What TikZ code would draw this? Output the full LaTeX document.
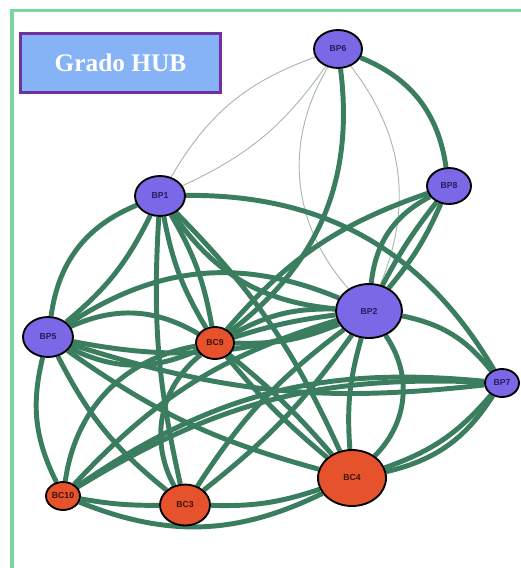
\documentclass[tikz,border=0pt]{standalone}
\usepackage{fontspec}
\setmainfont{Liberation Serif}
\newfontfamily\lblfont{Liberation Sans}
\usetikzlibrary{shapes.geometric,backgrounds}
\definecolor{edgegreen}{HTML}{3A7D5F}
\definecolor{thingray}{HTML}{A9B9B1}
\definecolor{framegreen}{HTML}{7AD5A1}
\definecolor{titlefill}{HTML}{86B3F6}
\definecolor{titledraw}{HTML}{7030A0}
\definecolor{pnode}{HTML}{7B68E6}
\definecolor{cnode}{HTML}{E5522B}
\definecolor{plabel}{HTML}{261A5E}
\definecolor{clabel}{HTML}{3A150C}
\tikzset{
  gnode/.style={ellipse, draw=black, line width=1.4pt, inner sep=0pt,
    font=\lblfont\bfseries\fontsize{6.5}{7}\selectfont},
  pn/.style={gnode, fill=pnode, text=plabel},
  cn/.style={gnode, fill=cnode, text=clabel},
  thickedge/.style={draw=edgegreen, line width=3.7pt},
  thinedge/.style={draw=thingray, line width=0.7pt},
}
\begin{document}
\begin{tikzpicture}[x=0.75pt,y=-0.75pt]
\useasboundingbox (0,0) rectangle (521,568);
% frame
\draw[framegreen, line width=2.3pt] (12,568) -- (12,10.5) -- (521,10.5);
% title
\node[draw=titledraw, fill=titlefill, line width=2.2pt, minimum width=150pt,
  minimum height=44pt, inner sep=0pt, text=white,
  font=\bfseries\fontsize{19}{22}\selectfont] (title) at (120.5,63) {Grado HUB};
% nodes
\node[pn, minimum width=36pt, minimum height=28.5pt] (BP6) at (338,49) {BP6};
\node[pn, minimum width=33pt, minimum height=27pt] (BP8) at (449,186) {BP8};
\node[pn, minimum width=37.5pt, minimum height=30pt] (BP1) at (160,196) {BP1};
\node[pn, minimum width=37.5pt, minimum height=30pt] (BP5) at (48,337) {BP5};
\node[cn, minimum width=28.5pt, minimum height=24pt] (BC9) at (215,343) {BC9};
\node[pn, minimum width=49.5pt, minimum height=40.5pt] (BP2) at (369,311) {BP2};
\node[pn, minimum width=25.5pt, minimum height=21pt] (BP7) at (502,383) {BP7};
\node[cn, minimum width=25.5pt, minimum height=21pt] (BC10) at (63,496) {BC10};
\node[cn, minimum width=37.5pt, minimum height=30.75pt] (BC3) at (185,505) {BC3};
\node[cn, minimum width=51pt, minimum height=42pt] (BC4) at (352,478) {BC4};
\begin{pgfonlayer}{background}
\fill[white] (0,0) rectangle (521,568);
% thin edges
\draw[thinedge] (BP1) to[bend left=20] (BP6);
\draw[thinedge] (BP1) to[bend right=15] (BP6);
\draw[thinedge] (BP6) to[bend right=36] (BP2);
\draw[thinedge] (BP6) to[bend left=30] (BP2);
% thick edges
\draw[thickedge] (BP6) to[bend left=30] (BP8);
\draw[thickedge] (BP6) to[bend left=30] (BC9);
\draw[thickedge] (BP8) to[bend right=28] (BP2);
\draw[thickedge] (BP8) to[bend right=5] (BP2);
\draw[thickedge] (BP8) to[bend left=8] (BP2);
\draw[thickedge] (BP8) to[bend right=15] (BC9);
\draw[thickedge] (BP1) to[bend right=30] (BP5);
\draw[thickedge] (BP1) to[bend left=12] (BP5);
\draw[thickedge] (BP1) to[bend left=30] (BP7);
\draw[thickedge] (BP1) to[bend left=10] (BC9);
\draw[thickedge] (BP1) to[bend right=10] (BC9);
\draw[thickedge] (BP1) to[bend left=10] (BC4);
\draw[thickedge] (BP1) to[bend right=25] (BP2);
\draw[thickedge] (BP1) to[bend right=8] (BC3);
\draw[thickedge] (BP5) to[bend left=28] (BP2);
\draw[thickedge] (BP5) to[bend right=15] (BP2);
\draw[thickedge] (BP5) to[bend left=27] (BC9);
\draw[thickedge] (BP5) to[bend right=25] (BC9);
\draw[thickedge] (BP5) to[bend right=12] (BP7);
\draw[thickedge] (BP5) to[bend right=20] (BC10);
\draw[thickedge] (BP5) to[bend right=12] (BC3);
\draw[thickedge] (BP5) to[bend right=10] (BC4);
\draw[thickedge] (BC10) to[bend left=36] (BC9);
\draw[thickedge] (BC10) to[bend left=15] (BP2);
\draw[thickedge] (BC10) to[bend left=17] (BP7);
\draw[thickedge] (BC10) to[bend left=20] (BP7);
\draw[thickedge] (BC10) to[bend right=24] (BC4);
\draw[thickedge] (BC10) to[bend right=5] (BC3);
\draw[thickedge] (BC3) to[bend left=40] (BC9);
\draw[thickedge] (BC3) to[bend left=10] (BP2);
\draw[thickedge] (BC3) to[bend right=8] (BP2);
\draw[thickedge] (BC3) to[bend right=10] (BC4);
\draw[thickedge] (BC9) to[bend left=5] (BC4);
\draw[thickedge] (BC9) to[bend right=5] (BC4);
\draw[thickedge] (BC9) to[bend left=15] (BP2);
\draw[thickedge] (BC9) to[bend left=5] (BP2);
\draw[thickedge] (BC9) to[bend right=12] (BP2);
\draw[thickedge] (BP2) to[bend left=40] (BC4);
\draw[thickedge] (BP2) to[bend right=10] (BC4);
\draw[thickedge] (BP2) to[bend left=20] (BP7);
\draw[thickedge] (BP7) to[bend left=15] (BC4);
\draw[thickedge] (BP7) to[bend left=22] (BC4);
\end{pgfonlayer}
\end{tikzpicture}
\end{document}
